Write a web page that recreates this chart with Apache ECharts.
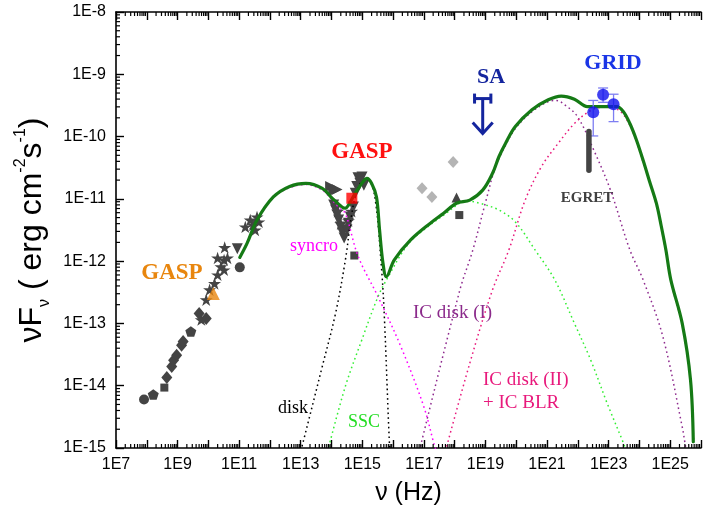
<!DOCTYPE html>
<html>
<head>
<meta charset="utf-8">
<script src="https://cdn.jsdelivr.net/npm/echarts@6/dist/echarts.min.js"></script>
<style>
  html, body { margin: 0; padding: 0; background: #fff; }
  #chart { width: 704px; height: 516px; }
</style>
</head>
<body>
<div id="chart"></div>
<script>
// Spectral energy distribution. All values are log10(nu / Hz) and log10(nuFnu / erg cm^-2 s^-1).

// ---- archival data (grey markers) ----
const starNu   = [9.77, 9.93, 10.04, 10.20, 10.30, 10.41, 10.51, 10.62, 10.30, 10.53, 10.51, 11.20, 11.36, 11.52, 11.58, 11.45, 11.64, 14.20, 14.30, 14.55, 14.65];
const starFlux = [-12.94, -12.62, -12.46, -12.36, -12.22, -12.09, -11.98, -11.95, -11.95, -11.78, -12.14, -11.45, -11.34, -11.50, -11.29, -11.42, -11.37, -11.20, -11.40, -11.35, -11.20];
const diamondNu   = [8.65, 8.81, 8.87, 8.97, 9.13, 9.18, 9.70, 9.93];
const diamondFlux = [-13.87, -13.69, -13.59, -13.51, -13.35, -13.29, -12.84, -12.92];
const pentagonNu   = [8.21, 9.43];
const pentagonFlux = [-14.14, -13.13];
const circleNu   = [7.91, 11.02];
const circleFlux = [-14.22, -12.10];
const squareNu   = [8.57, 14.74, 18.15];
const squareFlux = [-14.03, -11.91, -11.26];
const downTriNu   = [10.94, 14.07, 14.13, 14.18, 14.23, 14.29, 14.36, 14.41, 14.50, 14.55, 14.61, 14.71, 14.77, 14.82, 14.86, 14.99, 14.92, 15.05];
const downTriFlux = [-11.80, -11.10, -11.18, -11.26, -11.34, -11.45, -11.55, -11.63, -11.50, -11.39, -11.29, -11.13, -10.91, -10.80, -10.66, -10.65, -10.75, -10.78];
const rightTriNu   = [13.97, 14.07, 14.18];
const rightTriFlux = [-10.80, -10.87, -10.85];
const upTriNu   = [18.06];
const upTriFlux = [-10.98];
const lightDiamondNu   = [16.94, 17.26, 17.95];
const lightDiamondFlux = [-10.83, -10.97, -10.41];

// ---- GASP, GRID, EGRET, SA ----
const gaspRadioNu = [10.16];
const gaspRadioFlux = [-12.52];
const gaspOpticalNu = [14.66];
const gaspOpticalFlux = [-10.99];
const gridNu   = [22.50, 22.82, 23.16];
const gridFlux = [-9.61, -9.33, -9.48];
const gridHigh = [-9.42, -9.22, -9.32];
const gridLow  = [-9.99, -9.45, -9.76];
const egretNu = [22.36, 22.36];
const egretFlux = [-9.92, -10.54];
const saNu = [18.91];
const saLimit = [-9.39];
const saArrowTip = [-9.95];
const saBandHalfWidth = [0.265];

// ---- model components ----
const totalNu   = [11.02, 11.26, 11.58, 12.11, 12.64, 13.17, 13.70, 14.02, 14.34, 14.45, 14.55, 14.77, 15.03, 15.15, 15.30, 15.46, 15.56, 15.67, 15.78, 16.04, 16.57, 17.21, 17.64, 18.06, 18.49, 18.91, 19.23, 19.44, 19.65, 19.97, 20.51, 21.04, 21.46, 21.89, 22.31, 22.74, 23.05, 23.27, 23.48, 23.69, 23.90, 24.12, 24.33, 24.55, 24.71, 24.86, 25.02, 25.39, 25.66, 25.75];
const totalFlux = [-11.94, -11.71, -11.34, -10.97, -10.80, -10.75, -10.83, -10.99, -11.13, -11.15, -11.10, -10.91, -10.72, -10.67, -10.75, -10.97, -11.50, -12.03, -12.25, -11.98, -11.66, -11.39, -11.23, -11.07, -11.02, -10.86, -10.59, -10.32, -10.11, -9.84, -9.57, -9.41, -9.35, -9.40, -9.52, -9.52, -9.52, -9.52, -9.60, -9.79, -10.05, -10.38, -10.72, -11.07, -11.44, -11.82, -12.30, -13.00, -13.91, -14.90];
const diskNu   = [13.00, 13.07, 13.70, 14.13, 14.45, 14.66, 14.83, 14.99, 15.18, 15.40, 15.62, 15.72, 15.88, 15.92];
const diskFlux = [-15.05, -14.92, -13.69, -12.84, -11.98, -11.23, -10.86, -10.72, -10.70, -10.95, -12.09, -12.94, -14.92, -15.10];
const syncroNu   = [11.02, 11.58, 12.11, 12.64, 13.17, 13.70, 14.02, 14.30, 14.45, 14.87, 15.51, 16.25, 17.00, 17.32, 17.40];
const syncroFlux = [-11.96, -11.36, -10.98, -10.82, -10.77, -10.86, -11.02, -11.17, -11.23, -11.93, -12.57, -13.37, -14.34, -14.92, -15.05];
const sscNu   = [13.91, 14.45, 14.98, 15.51, 15.83, 16.50, 17.20, 17.70, 18.10, 18.27, 18.49, 18.81, 19.44, 19.97, 20.61, 21.25, 21.89, 22.42, 22.95, 23.48, 23.57];
const sscFlux = [-14.98, -14.01, -13.27, -12.57, -12.26, -11.72, -11.42, -11.24, -11.09, -11.05, -11.04, -11.07, -11.18, -11.37, -11.82, -12.30, -13.00, -13.59, -14.28, -14.92, -15.05];
const icDisk1Nu   = [16.85, 18.17, 18.59, 19.02, 19.33, 19.65, 19.97, 20.51, 21.04, 21.30, 21.60, 21.99, 22.52, 23.06, 23.69, 24.12, 24.76, 25.39, 25.50, 25.55];
const icDisk1Flux = [-15.05, -12.46, -11.82, -11.02, -10.48, -10.14, -9.87, -9.60, -9.44, -9.42, -9.50, -9.68, -10.22, -10.86, -11.82, -12.30, -13.21, -14.66, -14.98, -15.10];
const icDisk2Nu   = [17.70, 18.49, 19.23, 19.76, 20.29, 20.82, 21.36, 21.89, 22.42, 22.80, 23.27, 23.69, 24.12, 24.55, 24.86, 25.02, 25.39, 25.66, 25.76];
const icDisk2Flux = [-15.05, -13.64, -12.46, -11.82, -11.02, -10.48, -10.11, -9.79, -9.58, -9.53, -9.56, -9.82, -10.41, -11.10, -11.85, -12.33, -13.03, -13.94, -14.90];

// ---- axis ranges (decades) ----
const nuMinExp = 7, nuMaxExp = 26;
const fluxMinExp = -15, fluxMaxExp = -8;

const toPts = (nu, flux) => nu.map((v, i) => [Math.pow(10, v), Math.pow(10, flux[i])]);

const STAR = 'path://M50,2 L61.8,38.2 L99.9,38.2 L69.1,60.6 L80.9,96.8 L50,74.4 L19.1,96.8 L30.9,60.6 L0.1,38.2 L38.2,38.2 Z';
const PENTAGON = 'path://M50,0 L100,36.3 L80.9,95.1 L19.1,95.1 L0,36.3 Z';
const GREY = '#444444';
const SANS = '"Liberation Sans", Arial, sans-serif';
const SERIF = '"Liberation Serif", "Times New Roman", serif';

// log-scale minor ticks (2..9 x 10^n) along each axis
const minorTickData = [];
for (let e = nuMinExp; e < nuMaxExp; e++) {
  for (let m = 2; m <= 9; m++) minorTickData.push([m * Math.pow(10, e), 1e-12, 0]);
}
for (let e = fluxMinExp; e < fluxMaxExp; e++) {
  for (let m = 2; m <= 9; m++) minorTickData.push([1e10, m * Math.pow(10, e), 1]);
}

function greyScatter(nu, flux, symbol, size, rotate, color) {
  return {
    type: 'scatter', data: toPts(nu, flux), symbol: symbol, symbolSize: size,
    symbolRotate: rotate || 0, symbolKeepAspect: true,
    itemStyle: { color: color || GREY, opacity: 1 }, silent: true, z: 3
  };
}

function modelLine(nu, flux, color, width, dotted, z) {
  return {
    type: 'line', data: toPts(nu, flux), showSymbol: false, smooth: 0.35,
    lineStyle: { color: color, width: width, type: dotted ? [1.6, 3.2] : 'solid', cap: dotted ? 'butt' : 'round' },
    silent: true, z: z
  };
}

const logLabel = v => '1E' + Math.round(Math.log10(v));

const chart = echarts.init(document.getElementById('chart'), null, { renderer: 'canvas' });

chart.setOption({
  animation: false,
  backgroundColor: '#ffffff',
  grid: { left: 116, top: 12, width: 596, height: 436, containLabel: false },
  xAxis: [{
    type: 'log', logBase: 10, min: Math.pow(10, nuMinExp), max: Math.pow(10, nuMaxExp), interval: 1,
    position: 'bottom',
    name: 'ν (Hz)', nameLocation: 'middle', nameGap: 33,
    nameTextStyle: { fontFamily: SANS, fontSize: 25, color: '#000' },
    axisLine: { show: true, onZero: false, lineStyle: { color: '#000', width: 1.6 } },
    axisTick: { show: true, inside: true, length: 8, lineStyle: { color: '#000', width: 1.4 } },
    axisLabel: {
      margin: 9, fontFamily: SANS, fontSize: 16, color: '#000',
      formatter: v => (Math.round(Math.log10(v)) % 2 !== 0 ? logLabel(v) : '')
    },
    splitLine: { show: false }, minorTick: { show: false }
  }, {
    type: 'log', logBase: 10, min: Math.pow(10, nuMinExp), max: Math.pow(10, nuMaxExp), interval: 1,
    position: 'top',
    axisLine: { show: true, onZero: false, lineStyle: { color: '#000', width: 1.6 } },
    axisTick: { show: true, inside: true, length: 8, lineStyle: { color: '#000', width: 1.4 } },
    axisLabel: { show: false }, splitLine: { show: false }
  }],
  yAxis: [{
    type: 'log', logBase: 10, min: Math.pow(10, fluxMinExp), max: Math.pow(10, fluxMaxExp), interval: 1,
    position: 'left',
    name: '{a|νF}{s|ν}{a| ( erg cm}{p|-2}{a|s}{p|-1}{a|)}',
    nameLocation: 'middle', nameGap: 55, nameRotate: 90,
    nameTextStyle: {
      color: '#000',
      rich: {
        a: { fontFamily: SANS, fontSize: 32, lineHeight: 40, color: '#000' },
        s: { fontFamily: SANS, fontSize: 16, lineHeight: 16, verticalAlign: 'bottom', color: '#000' },
        p: { fontFamily: SANS, fontSize: 16, lineHeight: 16, verticalAlign: 'top', color: '#000' }
      }
    },
    axisLine: { show: true, onZero: false, lineStyle: { color: '#000', width: 1.6 } },
    axisTick: { show: true, inside: true, length: 8, lineStyle: { color: '#000', width: 1.4 } },
    axisLabel: { margin: 10, fontFamily: SANS, fontSize: 16, color: '#000', formatter: logLabel },
    splitLine: { show: false }, minorTick: { show: false }
  }],
  series: [
    {
      // minor ticks of the log axes
      type: 'custom', data: minorTickData, silent: true, z: 10, clip: false,
      renderItem: function (params, api) {
        const cs = params.coordSys;
        const p = api.coord([api.value(0), api.value(1)]);
        const st = { stroke: '#000', lineWidth: 1.2 };
        if (api.value(2) === 0) {
          return { type: 'group', children: [
            { type: 'line', shape: { x1: p[0], y1: cs.y + cs.height, x2: p[0], y2: cs.y + cs.height - 4 }, style: st },
            { type: 'line', shape: { x1: p[0], y1: cs.y, x2: p[0], y2: cs.y + 4 }, style: st }
          ] };
        }
        return { type: 'line', shape: { x1: cs.x, y1: p[1], x2: cs.x + 4, y2: p[1] }, style: st };
      }
    },
    greyScatter(diamondNu, diamondFlux, 'diamond', [11, 13]),
    greyScatter(pentagonNu, pentagonFlux, PENTAGON, 11),
    greyScatter(circleNu, circleFlux, 'circle', 10),
    greyScatter(squareNu, squareFlux, 'rect', 8),
    greyScatter(starNu, starFlux, STAR, 13),
    greyScatter(downTriNu, downTriFlux, 'triangle', 11, 180),
    greyScatter(rightTriNu, rightTriFlux, 'triangle', 11, -90),
    greyScatter(upTriNu, upTriFlux, 'triangle', 10),
    greyScatter(lightDiamondNu, lightDiamondFlux, 'diamond', [11, 12], 0, '#b4b4b4'),

    modelLine(diskNu, diskFlux, '#000000', 1.5, true, 4),
    modelLine(syncroNu, syncroFlux, '#ff00ff', 1.5, true, 4),
    modelLine(sscNu, sscFlux, '#33ee33', 1.5, true, 4),
    modelLine(icDisk1Nu, icDisk1Flux, '#8e2a8e', 1.5, true, 4),
    modelLine(icDisk2Nu, icDisk2Flux, '#e8197c', 1.5, true, 4),
    modelLine(totalNu, totalFlux, '#157a15', 3.2, false, 5),

    {
      // EGRET range
      type: 'line', data: toPts(egretNu, egretFlux), showSymbol: false, silent: true, z: 6,
      lineStyle: { color: GREY, width: 5.5, cap: 'round' }
    },
    {
      // GRID error bars
      type: 'custom', silent: true, z: 6,
      data: gridNu.map((v, i) => [Math.pow(10, v), Math.pow(10, gridHigh[i]), Math.pow(10, gridLow[i])]),
      renderItem: function (params, api) {
        const hi = api.coord([api.value(0), api.value(1)]);
        const lo = api.coord([api.value(0), api.value(2)]);
        const st = { stroke: '#7e7ef2', lineWidth: 1.3 };
        const w = 5;
        return { type: 'group', children: [
          { type: 'line', shape: { x1: hi[0], y1: hi[1], x2: lo[0], y2: lo[1] }, style: st },
          { type: 'line', shape: { x1: hi[0] - w, y1: hi[1], x2: hi[0] + w, y2: hi[1] }, style: st },
          { type: 'line', shape: { x1: lo[0] - w, y1: lo[1], x2: lo[0] + w, y2: lo[1] }, style: st }
        ] };
      }
    },
    {
      type: 'scatter', data: toPts(gridNu, gridFlux), symbol: 'circle', symbolSize: 12,
      itemStyle: { color: '#1010ee' }, silent: true, z: 7
    },
    {
      type: 'scatter', data: toPts(gaspRadioNu, gaspRadioFlux), symbol: 'triangle', symbolSize: 13,
      itemStyle: { color: '#e8860e' }, silent: true, z: 7
    },
    {
      type: 'scatter', data: toPts(gaspOpticalNu, gaspOpticalFlux), symbol: 'rect', symbolSize: 11,
      itemStyle: { color: '#ff0000' }, silent: true, z: 7
    },
    {
      // SA upper limit: band bar with arrow
      type: 'custom', silent: true, z: 7,
      data: saNu.map((v, i) => [Math.pow(10, v), Math.pow(10, saLimit[i]), Math.pow(10, saArrowTip[i]), saBandHalfWidth[i]]),
      renderItem: function (params, api) {
        const nu = api.value(0), hw = Math.pow(10, api.value(3));
        const top = api.coord([nu, api.value(1)]);
        const tip = api.coord([nu, api.value(2)]);
        const l = api.coord([nu / hw, api.value(1)]);
        const r = api.coord([nu * hw, api.value(1)]);
        const st = { stroke: '#14259e', lineWidth: 3, fill: 'none', lineJoin: 'miter' };
        return { type: 'group', children: [
          { type: 'line', shape: { x1: l[0], y1: top[1], x2: r[0], y2: top[1] }, style: st },
          { type: 'line', shape: { x1: l[0], y1: top[1] - 5, x2: l[0], y2: top[1] + 5 }, style: st },
          { type: 'line', shape: { x1: r[0], y1: top[1] - 5, x2: r[0], y2: top[1] + 5 }, style: st },
          { type: 'line', shape: { x1: top[0], y1: top[1], x2: tip[0], y2: tip[1] }, style: st },
          { type: 'polyline', shape: { points: [[tip[0] - 10, tip[1] - 11], [tip[0], tip[1]], [tip[0] + 10, tip[1] - 11]] }, style: st }
        ] };
      }
    }
  ],
  graphic: [
    { type: 'text', x: 172, y: 273, style: { text: 'GASP', fill: '#e8860e', font: 'bold 23px ' + SERIF, align: 'center', verticalAlign: 'middle' } },
    { type: 'text', x: 362, y: 152, style: { text: 'GASP', fill: '#ff1010', font: 'bold 23px ' + SERIF, align: 'center', verticalAlign: 'middle' } },
    { type: 'text', x: 491, y: 77, style: { text: 'SA', fill: '#14259e', font: 'bold 22px ' + SERIF, align: 'center', verticalAlign: 'middle' } },
    { type: 'text', x: 613, y: 63, style: { text: 'GRID', fill: '#1a35e6', font: 'bold 22px ' + SERIF, align: 'center', verticalAlign: 'middle' } },
    { type: 'text', x: 587, y: 198, style: { text: 'EGRET', fill: '#404040', font: 'bold 15px ' + SERIF, align: 'center', verticalAlign: 'middle' } },
    { type: 'text', x: 314, y: 246, style: { text: 'syncro', fill: '#ff00ff', font: '18px ' + SERIF, align: 'center', verticalAlign: 'middle' } },
    { type: 'text', x: 293, y: 408, style: { text: 'disk', fill: '#000000', font: '18px ' + SERIF, align: 'center', verticalAlign: 'middle' } },
    { type: 'text', x: 364, y: 422, style: { text: 'SSC', fill: '#22dd22', font: '18px ' + SERIF, align: 'center', verticalAlign: 'middle' } },
    { type: 'text', x: 413, y: 313, style: { text: 'IC disk (I)', fill: '#8b2a8b', font: '19px ' + SERIF, align: 'left', verticalAlign: 'middle' } },
    { type: 'text', x: 483, y: 380, style: { text: 'IC disk (II)', fill: '#e8197c', font: '19px ' + SERIF, align: 'left', verticalAlign: 'middle' } },
    { type: 'text', x: 483, y: 403, style: { text: '+ IC BLR', fill: '#e8197c', font: '19px ' + SERIF, align: 'left', verticalAlign: 'middle' } }
  ]
});
</script>
</body>
</html>
